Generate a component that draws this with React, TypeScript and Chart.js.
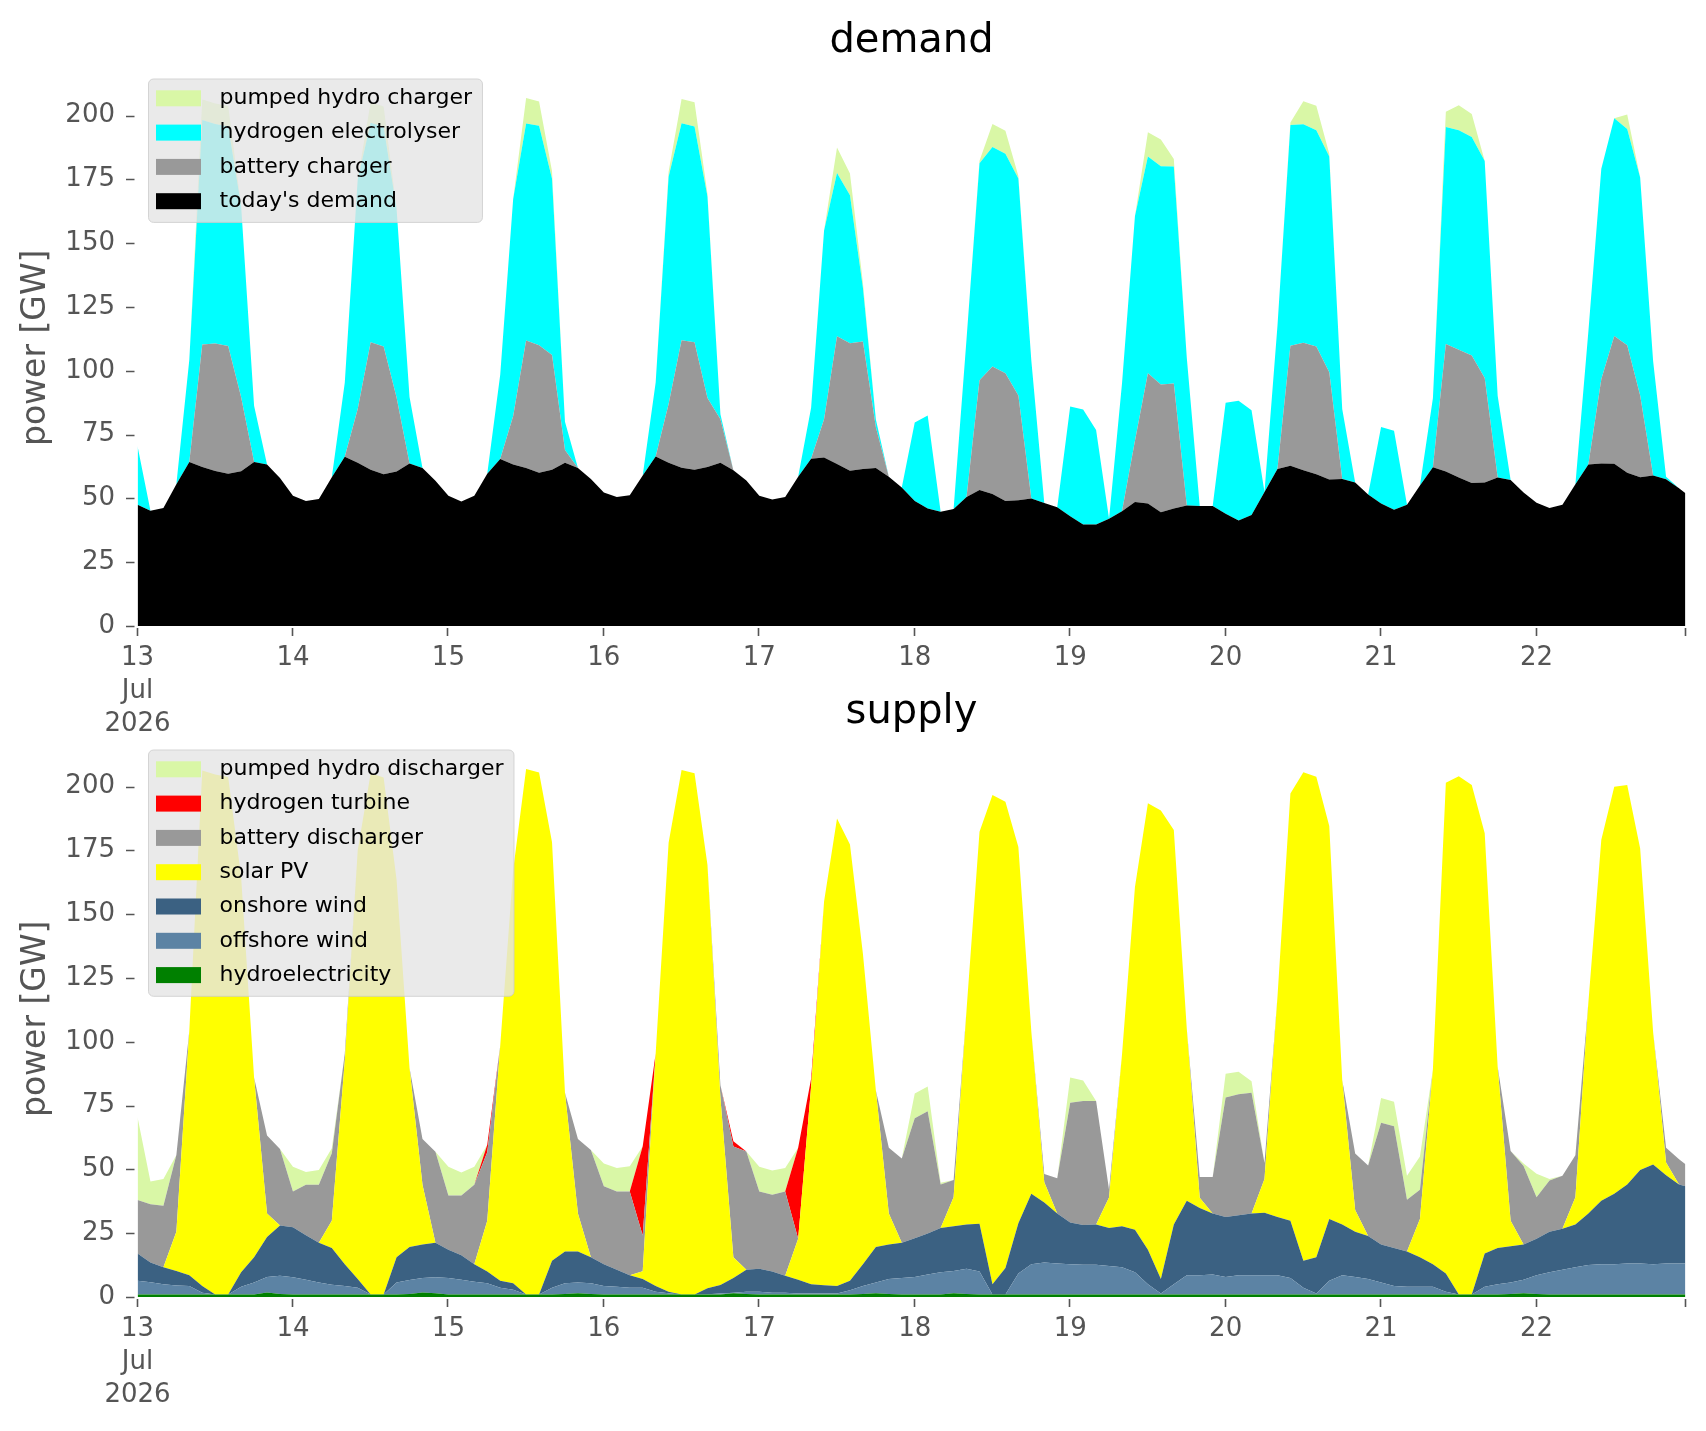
import React, { useEffect, useRef } from "react";
import { Chart, registerables } from "chart.js";

Chart.register(...registerables);

// ---------- x grid (hours from 13 Jul 2026 00:00), ticks ----------
const hours: number[] = Array.from({ length: 120 }, (_, i) => i * 2).concat([239]);
const xTickHours = [0, 24, 48, 72, 96, 120, 144, 168, 192, 216, 239];
const xTickLabels: (string | string[])[] = [["13", "Jul", "2026"], "14", "15", "16", "17", "18", "19", "20", "21", "22", ""];
const yTickValues = [0, 25, 50, 75, 100, 125, 150, 175, 200];

// ---------- demand side (GW), one row per day, 2-hourly ----------
const todaysDemand = [
  47.5, 45.2, 46.2, 55.5, 64.3, 62.3, 60.7, 59.7, 60.6, 64.3, 63.3, 58,
  51, 49, 49.8, 58.3, 66.3, 64, 61.2, 59.5, 60.5, 63.7, 61.9, 56.9,
  51, 48.8, 51, 59.7, 65.4, 63.3, 61.9, 60, 61.2, 64, 61.9, 57.6,
  52.3, 50.5, 51.2, 59, 66.4, 64, 62, 61.2, 62.3, 64, 61, 57,
  51, 49.6, 50.5, 58.5, 65.5, 66, 63.5, 60.8, 61.5, 61.9, 58.5, 54.3,
  49, 46, 44.8, 45.8, 50.5, 53.3, 51.7, 49, 49.3, 50, 48.2, 46.5,
  43, 39.8, 39.8, 42, 45, 48.6, 48, 44.6, 46, 47.2, 47, 47,
  44, 41.3, 43.5, 52.5, 61.5, 62.8, 61, 59.5, 57.4, 57.6, 56.2, 51.5,
  48, 45.5, 47.5, 55, 62.2, 60.5, 58.2, 56, 56.2, 58.2, 57.2, 52.3,
  48.3, 46.2, 47.5, 55.5, 63.3, 63.7, 63.6, 60, 58.3, 59, 57.5, 54,
  52,
];
const batteryCharger = [
  0, 0, 0, 0, 0, 48, 50, 50, 29, 0, 0, 0,
  0, 0, 0, 0, 0, 21, 50, 50, 29, 0, 0, 0,
  0, 0, 0, 0, 0, 19, 50, 50, 45, 5, 0, 0,
  0, 0, 0, 0, 0, 23, 50, 50, 27, 17, 0, 0,
  0, 0, 0, 0, 0, 15, 50, 50, 50, 16, 0, 0,
  0, 0, 0, 0, 0, 43, 50, 50, 41, 0, 0, 0,
  0, 0, 0, 0, 0, 24, 51, 50, 49, 0, 0, 0,
  0, 0, 0, 0, 0, 47, 50, 50, 42, 0, 0, 0,
  0, 0, 0, 0, 0, 50, 50, 50, 41, 0, 0, 0,
  0, 0, 0, 0, 0, 33, 50, 50, 32, 0, 0, 0,
  0,
];
const hydrogenElectrolyser = [
  23, 0, 0, 0, 40, 88, 86, 86, 75, 22, 0, 0,
  0, 0, 0, 0, 29, 90, 86, 86, 74, 26, 0, 0,
  0, 0, 0, 0, 33, 85, 85, 86, 69, 11, 0, 0,
  0, 0, 0, 0, 29, 89, 85, 84.5, 79, 2, 0, 0,
  0, 0, 0, 0, 20, 74, 64, 58, 21, 3, 0, 0,
  30.7, 36.5, 0, 0, 62, 85, 86, 86, 85, 54, 0, 0,
  43, 45, 37, 0, 50, 88, 85, 85.5, 85, 58, 0, 0,
  43.5, 47, 41, 0, 56, 86.5, 85.6, 84.7, 84.6, 27.4, 0, 0,
  30, 31, 0, 0, 27, 85, 86, 85.6, 85, 32, 0, 0,
  0, 0, 0, 0, 52, 82.5, 85.3, 84.7, 85.4, 44.8, 1, 0,
  0,
];
const pumpedHydroCharger = [
  0, 0, 0, 0, 0, 8, 8, 8, 0, 0, 0, 0,
  0, 0, 0, 0, 0, 0, 8, 8, 0, 0, 0, 0,
  0, 0, 0, 0, 0, 0, 10, 9.5, 3, 0, 0, 0,
  0, 0, 0, 0, 0, 2, 9.5, 9.5, 1, 0, 0, 0,
  0, 0, 0, 0, 0, 0, 10, 8.5, 2, 0, 0, 0,
  0, 0, 0, 0, 0, 1, 9, 9, 1, 0, 0, 0,
  0, 0, 0, 0, 0, 0, 9.5, 10.5, 3, 0, 0, 0,
  0, 0, 0, 0, 0, 1, 9, 9.6, 1, 0, 0, 0,
  0, 0, 0, 0, 0, 6, 9.8, 9, 0, 0, 0, 0,
  0, 0, 0, 0, 0, 0, 0, 5.7, 0, 0, 0, 0,
  0,
];

// ---------- supply side (GW) ----------
const hydroelectricity = [
  1, 1, 1, 1, 1, 1, 1, 1, 1, 1, 1.8, 1.2,
  1, 1, 1, 1, 1, 1, 1, 1, 1, 1.2, 1.8, 1.5,
  1, 1, 1, 1, 1, 1, 1, 1, 1, 1.2, 1.5, 1.2,
  1, 1, 1, 1, 1, 1, 1, 1, 1, 1, 1.5, 1.2,
  1, 1, 1, 1, 1, 1, 1, 1, 1.2, 1.5, 1.2, 1,
  1, 1, 1, 1.5, 1.2, 1, 1, 1, 1, 1, 1, 1,
  1, 1, 1, 1, 1, 1, 1, 1, 1, 1, 1, 1,
  1, 1, 1, 1, 1, 1, 1, 1, 1, 1, 1, 1,
  1, 1, 1, 1, 1, 1, 1, 1, 1, 1, 1.2, 1.5,
  1.2, 1, 1, 1, 1, 1, 1, 1, 1, 1, 1, 1,
  1,
];
const offshoreWind = [
  5.4, 4.8, 4, 3.5, 3.3, 0.7, 0, 0, 3, 4.7, 6, 7.1,
  6.7, 5.8, 4.7, 3.8, 3.3, 2.6, 0, 0, 4.7, 5.5, 5.6, 6.2,
  6.4, 5.8, 5, 4.4, 2.6, 1.8, 0, 0, 2.6, 4.2, 4.2, 4.2,
  3.3, 3, 2.6, 2.6, 1.1, 0.5, 0, 0, 0.1, 0.4, 0.2, 0.9,
  1.1, 0.7, 0.7, 0.4, 0.4, 0.4, 0.4, 1.6, 3.1, 4.2, 5.9, 6.4,
  6.8, 7.8, 8.7, 8.7, 9.9, 9, 0, 0, 8.2, 11.8, 12.5, 12.1,
  11.8, 11.6, 11.6, 11.1, 10.7, 8.7, 4, 0.4, 4, 7.5, 7.5, 7.8,
  6.8, 7.5, 7.5, 7.5, 7.5, 6.4, 2.6, 0.4, 5.4, 7.5, 6.8, 6.1,
  4.7, 3.3, 3, 3, 3, 1.1, 0, 0, 3, 4, 4.5, 5.3,
  7.3, 8.7, 9.7, 10.7, 11.5, 11.8, 11.8, 12.1, 12.1, 11.8, 12.1, 12.1,
  12.1,
];
const onshoreWind = [
  10.6, 7.7, 6.7, 5.7, 4.2, 2.6, 0, 0, 5.7, 9.9, 15.7, 19.7,
  19.6, 17.4, 15.6, 14.4, 8.5, 3.5, 0, 0, 9.9, 12.9, 13.2, 13.6,
  11.1, 9.6, 6.8, 4.6, 2.8, 2.6, 0, 0, 10.6, 12.4, 12.1, 10.2,
  8.5, 6.7, 4.9, 3.5, 2.2, 0.6, 0, 0, 2.3, 3.3, 5.7, 8.6,
  9, 8.3, 6.6, 5.4, 3.6, 3.2, 2.9, 3.8, 8.5, 13.9, 13.5, 13.9,
  15.2, 16.1, 17.3, 17.5, 17.3, 18.7, 4, 10.4, 19.7, 27.7, 23.5, 19.6,
  16.4, 15.6, 15.8, 14.9, 16, 16.6, 13.5, 5.7, 23.4, 29.2, 26.4, 23.9,
  23.5, 23.5, 24.2, 24.5, 22.8, 22.5, 10.6, 14.2, 24.2, 19.9, 17.8, 16.8,
  14.9, 14.9, 13.8, 11.6, 8.8, 7.1, 0, 0, 13, 14.2, 14.2, 13.8,
  14.3, 15.9, 16, 16.7, 20.2, 24.9, 27.7, 31, 36.7, 39.1, 34.6, 31,
  30.3,
];
const solarPV = [
  0, 0, 0, 15.4, 95.8, 202, 203.7, 202.7, 154.9, 70.4, 9.2, 0,
  0, 0, 0, 10.7, 79.7, 167.9, 204.2, 202.5, 147.9, 70.1, 23.4, 0,
  0, 0, 0, 19.9, 92, 161.9, 205.9, 204.5, 164, 62.2, 14.9, 0,
  0, 0, 0, 3, 91.1, 175.9, 205.5, 204.2, 165.9, 73.3, 8.2, 0,
  0, 0, 0, 16, 77.5, 150.4, 183.2, 170.9, 121.7, 61.3, 12.1, 0,
  0, 0, 0, 11.4, 84.1, 153.6, 191.7, 182.6, 147.4, 63.5, 8, 0,
  0, 0, 0, 12, 67.3, 134.3, 175, 183.5, 154.6, 67.5, 4, 0,
  0, 0, 0, 13.2, 86.2, 167.4, 191.4, 188.2, 153.9, 56.6, 8.5, 0,
  0, 0, 0, 15, 76.4, 192.3, 203, 199.6, 164.7, 71, 10, 0,
  0, 0, 0, 10.7, 82.6, 141.5, 159.4, 156.5, 125.9, 51.9, 5, 0,
  0,
];
const batteryDischarger = [
  21, 22.8, 24.1, 30, 0, 0, 0, 0, 0, 0, 30.6, 30,
  14, 19.8, 22.7, 26.4, 2.8, 0, 0, 0, 0, 0, 17.9, 35.6,
  21.3, 23.4, 31.2, 26.8, 0, 0, 0, 0, 0, 0, 29.2, 42,
  30.6, 30.6, 32.8, 14, 0, 0, 0, 0, 0, 5, 43.4, 46.3,
  30.2, 30.1, 33, 0, 0, 0, 0, 0, 0, 0, 25.8, 33,
  47, 47.9, 17.1, 6.7, 0, 0, 0, 0, 0, 0, 3.2, 13.8,
  46.9, 48.6, 48.4, 3, 0, 0, 0, 0, 0, 0, 8.1, 14.3,
  46.9, 47.4, 47.3, 6.3, 0, 0, 0, 0, 0, 0, 22.1, 27.6,
  47.7, 47.7, 20.3, 11.4, 0, 0, 0, 0, 0, 0, 27.3, 30.7,
  16.3, 20, 20.8, 16.4, 0, 0, 0, 0, 0, 0, 5.8, 9.9,
  8.6,
];
const hydrogenTurbine = [
  0, 0, 0, 0, 0, 0, 0, 0, 0, 0, 0, 0,
  0, 0, 0, 0, 0, 0, 0, 0, 0, 0, 0, 0,
  0, 0, 0, 3, 0, 0, 0, 0, 0, 0, 0, 0,
  0, 0, 0, 35, 0, 0, 0, 0, 0, 0, 2, 0,
  0, 0, 0, 35.7, 3, 0, 0, 0, 0, 0, 0, 0,
  0, 0, 0, 0, 0, 0, 0, 0, 0, 0, 0, 0,
  0, 0, 0, 0, 0, 0, 0, 0, 0, 0, 0, 0,
  0, 0, 0, 0, 0, 0, 0, 0, 0, 0, 0, 0,
  0, 0, 0, 0, 0, 0, 0, 0, 0, 0, 0, 0,
  0, 0, 0, 0, 0, 0, 0, 0, 0, 0, 0, 0,
  0,
];
const pumpedHydroDischarger = [
  32.5, 9, 10.4, 0, 0, 0, 0, 0, 0, 0, 0, 0,
  9.7, 5, 5.8, 2, 0, 0, 0, 0, 0, 0, 0, 0,
  11.2, 9, 7, 0, 0, 0, 0, 0, 0, 0, 0, 0,
  8.9, 9.2, 9.9, 0, 0, 0, 0, 0, 0, 0, 0, 0,
  9.7, 9.5, 9.2, 0, 0, 0, 0, 0, 0, 0, 0, 0,
  9.7, 9.7, 0.7, 0, 0, 0, 0, 0, 0, 0, 0, 0,
  9.9, 8, 0, 0, 0, 0, 0, 0, 0, 0, 0, 0,
  9.3, 8.9, 4.5, 0, 0, 0, 0, 0, 0, 0, 0, 0,
  9.7, 9.6, 9.4, 13, 0, 0, 0, 0, 0, 0, 0, 1,
  9.2, 0.6, 0, 0, 0, 0, 0, 0, 0, 0, 0, 0,
  0,
];

// ---------- series definitions (stack order bottom -> top) ----------
type Series = { label: string; color: string; values: number[] };

const demandSeries: Series[] = [
  { label: "today's demand", color: "#000000", values: todaysDemand },
  { label: "battery charger", color: "#999999", values: batteryCharger },
  { label: "hydrogen electrolyser", color: "#00ffff", values: hydrogenElectrolyser },
  { label: "pumped hydro charger", color: "#d9f7a6", values: pumpedHydroCharger },
];
const supplySeries: Series[] = [
  { label: "hydroelectricity", color: "#008000", values: hydroelectricity },
  { label: "offshore wind", color: "#5c83a4", values: offshoreWind },
  { label: "onshore wind", color: "#3b6182", values: onshoreWind },
  { label: "solar PV", color: "#ffff00", values: solarPV },
  { label: "battery discharger", color: "#999999", values: batteryDischarger },
  { label: "hydrogen turbine", color: "#ff0000", values: hydrogenTurbine },
  { label: "pumped hydro discharger", color: "#d9f7a6", values: pumpedHydroDischarger },
];

// ---------- layout constants ----------
const FONT = '"DejaVu Sans", "Liberation Sans", sans-serif';
const CANVAS_W = 1706;
const CANVAS_H = 760;
const PLOT_LEFT = 137.5;
const PLOT_RIGHT = 1685.5;
const PLOT_TOP = 69.6;
const PLOT_BOTTOM = 626;
const Y_MAX = 218;
const TICK_COLOR = "#555555";

function roundRect(ctx: CanvasRenderingContext2D, x: number, y: number, w: number, h: number, r: number) {
  ctx.beginPath();
  ctx.moveTo(x + r, y);
  ctx.lineTo(x + w - r, y);
  ctx.arcTo(x + w, y, x + w, y + r, r);
  ctx.lineTo(x + w, y + h - r);
  ctx.arcTo(x + w, y + h, x + w - r, y + h, r);
  ctx.lineTo(x + r, y + h);
  ctx.arcTo(x, y + h, x, y + h - r, r);
  ctx.lineTo(x, y + r);
  ctx.arcTo(x, y, x + r, y, r);
  ctx.closePath();
}

function decorPlugin(title: string, series: Series[]) {
  return {
    id: "decor",
    afterDraw(chart: any) {
      const { ctx, chartArea: ca, scales } = chart;
      ctx.save();
      // title
      ctx.fillStyle = "#000";
      ctx.font = `40px ${FONT}`;
      ctx.textAlign = "center";
      ctx.textBaseline = "alphabetic";
      ctx.fillText(title, (ca.left + ca.right) / 2, ca.top - 17.6);

      // tick marks
      ctx.strokeStyle = TICK_COLOR;
      ctx.lineWidth = 1.6;
      ctx.beginPath();
      scales.y.ticks.forEach((t: any) => {
        const y = Math.round(scales.y.getPixelForValue(t.value)) + 0.5;
        ctx.moveTo(ca.left - 11.5, y);
        ctx.lineTo(ca.left - 3, y);
      });
      scales.x.ticks.forEach((t: any) => {
        const x = Math.round(scales.x.getPixelForValue(t.value)) - 0.5;
        ctx.moveTo(x, ca.bottom + 2);
        ctx.lineTo(x, ca.bottom + 10);
      });
      ctx.stroke();

      // legend (top of stack first)
      const items = [...series].reverse();
      const left = ca.left + 11;
      const top = ca.top + 9.4;
      ctx.font = `22px ${FONT}`;
      const maxW = Math.max(...items.map((it) => ctx.measureText(it.label).width));
      const w = 71 + maxW + 10.5;
      const h = 19.3 + (items.length - 1) * 34.3 + 21.2;
      roundRect(ctx, left, top, w, h, 5);
      ctx.fillStyle = "rgba(229,229,229,0.8)";
      ctx.fill();
      ctx.strokeStyle = "rgba(204,204,204,0.8)";
      ctx.lineWidth = 1;
      ctx.stroke();
      items.forEach((it, i) => {
        const cy = top + 19.3 + i * 34.3;
        ctx.fillStyle = it.color;
        ctx.fillRect(left + 7.5, cy - 8, 45, 16);
        ctx.fillStyle = "#000";
        ctx.textAlign = "left";
        ctx.textBaseline = "middle";
        ctx.fillText(it.label, left + 71, cy);
      });
      ctx.restore();
    },
  };
}

function buildConfig(title: string, series: Series[]): any {
  const datasets = series.map((s, i) => ({
    label: s.label,
    data: hours.map((h, j) => ({ x: h, y: s.values[j] })),
    backgroundColor: s.color,
    borderColor: s.color,
    borderWidth: 0,
    pointRadius: 0,
    pointHoverRadius: 0,
    fill: i === 0 ? "origin" : "-1",
    tension: 0,
  }));
  return {
    type: "line",
    data: { datasets },
    options: {
      animation: false,
      responsive: false,
      maintainAspectRatio: false,
      devicePixelRatio: 1,
      events: [],
      layout: { padding: { left: 0, right: CANVAS_W - PLOT_RIGHT, top: PLOT_TOP, bottom: 0 } },
      plugins: {
        legend: { display: false },
        tooltip: { enabled: false },
        title: { display: false },
      },
      scales: {
        x: {
          type: "linear",
          min: 0,
          max: 239,
          afterBuildTicks: (s: any) => {
            s.ticks = xTickHours.map((v) => ({ value: v }));
          },
          afterFit: (s: any) => {
            s.height = CANVAS_H - PLOT_BOTTOM;
          },
          grid: { display: false, drawTicks: false },
          border: { display: false },
          ticks: {
            autoSkip: false,
            maxRotation: 0,
            minRotation: 0,
            color: TICK_COLOR,
            padding: 15.5,
            font: { family: FONT, size: 26, lineHeight: 1.27 },
            callback: (_v: any, i: number) => xTickLabels[i],
          },
        },
        y: {
          stacked: true,
          min: 0,
          max: Y_MAX,
          afterBuildTicks: (s: any) => {
            s.ticks = yTickValues.map((v) => ({ value: v }));
          },
          afterFit: (s: any) => {
            s.width = PLOT_LEFT;
          },
          grid: { display: false, drawTicks: false },
          border: { display: false },
          ticks: {
            color: TICK_COLOR,
            padding: 22.5,
            font: { family: FONT, size: 26 },
          },
          title: {
            display: true,
            text: "power [GW]",
            color: TICK_COLOR,
            font: { family: FONT, size: 33, lineHeight: 1.2 },
            padding: { top: 16.2, bottom: 0 },
          },
        },
      },
    },
    plugins: [decorPlugin(title, series)],
  };
}

export default function App() {
  const demandRef = useRef<HTMLCanvasElement | null>(null);
  const supplyRef = useRef<HTMLCanvasElement | null>(null);

  useEffect(() => {
    document.body.style.margin = "0";
    document.body.style.overflow = "hidden";
    const c1 = new Chart(demandRef.current as HTMLCanvasElement, buildConfig("demand", demandSeries));
    const c2 = new Chart(supplyRef.current as HTMLCanvasElement, buildConfig("supply", supplySeries));
    return () => {
      c1.destroy();
      c2.destroy();
    };
  }, []);

  return (
    <div style={{ position: "relative", width: CANVAS_W, height: 1431, background: "#ffffff", overflow: "hidden" }}>
      <canvas
        ref={demandRef}
        width={CANVAS_W}
        height={CANVAS_H}
        style={{ position: "absolute", left: 0, top: 0, width: CANVAS_W, height: CANVAS_H }}
      />
      <canvas
        ref={supplyRef}
        width={CANVAS_W}
        height={CANVAS_H}
        style={{ position: "absolute", left: 0, top: 671, width: CANVAS_W, height: CANVAS_H }}
      />
    </div>
  );
}
